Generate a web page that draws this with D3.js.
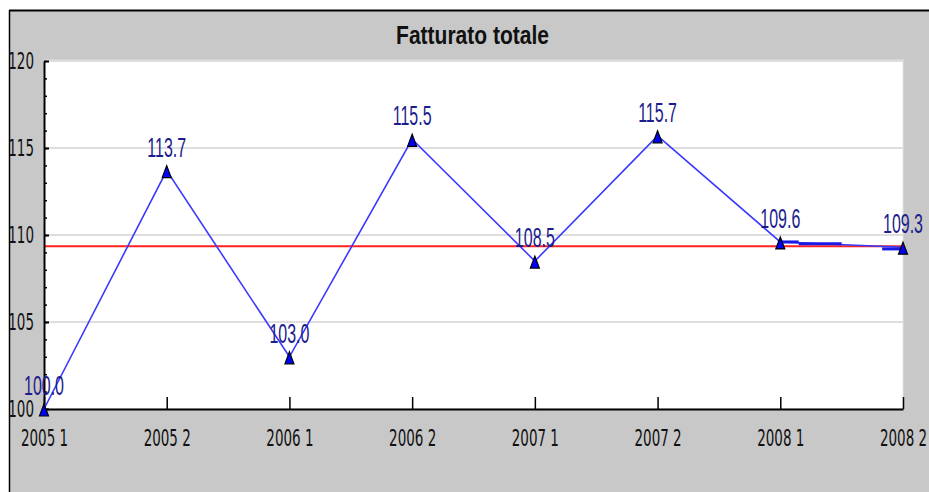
<!DOCTYPE html>
<html>
<head>
<meta charset="utf-8">
<script src="https://cdnjs.cloudflare.com/ajax/libs/d3/7.8.5/d3.min.js"></script>
<style>
  body { margin: 0; background: #fff; }
  svg { display: block; }
  .tickText { font-family: "Liberation Sans Narrow", "DejaVu Sans Condensed", sans-serif; font-size: 15px; fill: #111; }
</style>
</head>
<body>
<div id="chart"></div>
<script>
// chart data
var periods = ["2005 1", "2005 2", "2006 1", "2006 2", "2007 1", "2007 2", "2008 1", "2008 2"];
var fatturato = [100.0, 113.7, 103.0, 115.5, 108.5, 115.7, 109.6, 109.3];
var lineaRiferimento = 109.35;
// short extra blue segments near the end: [from index, to index, value]
var segmentiExtra = [[6, 6.15, 109.6], [6.15, 6.5, 109.5], [6.83, 7, 109.2]];
var yTicks = [100, 105, 110, 115, 120];
var titolo = "Fatturato totale";

// svg size
var svgWidth = 929;
var svgHeight = 492;

// plot area
var plot = { left: 44, right: 903, top: 61, bottom: 409 };

var svg = d3.select("#chart")
    .append("svg")
    .attr("width", svgWidth)
    .attr("height", svgHeight);

// grey panel with black frame (top + left visible)
svg.append("rect")
    .attr("x", 9).attr("y", 10)
    .attr("width", svgWidth).attr("height", svgHeight)
    .attr("fill", "#c8c8c8");
svg.append("line")
    .attr("x1", 9).attr("x2", svgWidth).attr("y1", 10.5).attr("y2", 10.5)
    .attr("stroke", "#000").attr("stroke-width", 2);
svg.append("line")
    .attr("x1", 9.5).attr("x2", 9.5).attr("y1", 10).attr("y2", svgHeight)
    .attr("stroke", "#000").attr("stroke-width", 1.5);

// white plot background
svg.append("rect")
    .attr("x", plot.left).attr("y", plot.top - 1)
    .attr("width", plot.right - plot.left).attr("height", plot.bottom - plot.top + 1)
    .attr("fill", "#fff")
    .attr("stroke", "#e2e2e2").attr("stroke-width", 1);

// scales
var xScale = d3.scalePoint()
    .domain(periods)
    .range([plot.left, plot.right]);

var xIndex = d3.scaleLinear()
    .domain([0, periods.length - 1])
    .range([plot.left, plot.right]);

var yScale = d3.scaleLinear()
    .domain([100, 120])
    .range([plot.bottom, plot.top]);

// gridlines
svg.append("g")
    .selectAll("line")
    .data(yTicks.slice(1))
    .enter()
    .append("line")
    .attr("x1", plot.left).attr("x2", plot.right)
    .attr("y1", d => yScale(d)).attr("y2", d => yScale(d))
    .attr("stroke", "#dedede")
    .attr("stroke-width", 2);

// red reference line
svg.append("line")
    .attr("x1", plot.left).attr("x2", plot.right)
    .attr("y1", yScale(lineaRiferimento)).attr("y2", yScale(lineaRiferimento))
    .attr("stroke", "#ff2020")
    .attr("stroke-width", 2);

// minor y ticks
var minorAxis = d3.axisLeft(yScale)
    .ticks(20)
    .tickSizeInner(-3)
    .tickSizeOuter(0)
    .tickFormat("");

svg.append("g")
    .attr("transform", `translate(${plot.left}, 0)`)
    .call(minorAxis)
    .call(g => g.select(".domain").remove())
    .selectAll("line")
    .attr("stroke", "#000")
    .attr("stroke-width", 1.5);

// major y axis
var leftAxis = d3.axisLeft(yScale)
    .tickValues(yTicks)
    .tickSizeInner(-5)
    .tickSizeOuter(0)
    .tickPadding(10);

var yAxisG = svg.append("g")
    .attr("transform", `translate(${plot.left}, 0)`)
    .call(leftAxis);

yAxisG.select(".domain").attr("stroke", "#000").attr("stroke-width", 2);
yAxisG.selectAll(".tick line").attr("stroke", "#000").attr("stroke-width", 2);
yAxisG.selectAll("text")
    .attr("class", "tickText")
    .attr("font-family", null).attr("font-size", null)
    .attr("transform", "scale(1,1.5)");

// x axis
var bottomAxis = d3.axisBottom(xScale)
    .tickSizeInner(-12)
    .tickSizeOuter(0)
    .tickPadding(14);

var xAxisG = svg.append("g")
    .attr("transform", `translate(0, ${plot.bottom})`)
    .call(bottomAxis);

xAxisG.select(".domain").attr("stroke", "#000").attr("stroke-width", 2);
xAxisG.selectAll(".tick line").attr("stroke", "#000").attr("stroke-width", 1.5);
xAxisG.selectAll("text")
    .attr("class", "tickText")
    .attr("font-family", null).attr("font-size", null)
    .attr("transform", "scale(1,1.5)");

// title
svg.append("text")
    .attr("transform", `translate(${(plot.left + plot.right) / 2 - 1}, 44) scale(1,1.25)`)
    .attr("text-anchor", "middle")
    .style("font-family", "'Liberation Sans Narrow', sans-serif")
    .style("font-weight", "bold")
    .style("font-size", "21px")
    .attr("fill", "#111")
    .text(titolo);

// data line
var line = d3.line()
    .x((d, i) => xScale(periods[i]))
    .y(d => yScale(d));

svg.append("path")
    .datum(fatturato)
    .attr("d", line)
    .attr("fill", "none")
    .attr("stroke", "#3a3aff")
    .attr("stroke-width", 1.6);

// extra segments
svg.append("g")
    .selectAll("line")
    .data(segmentiExtra)
    .enter()
    .append("line")
    .attr("x1", d => xIndex(d[0])).attr("x2", d => xIndex(d[1]))
    .attr("y1", d => yScale(d[2])).attr("y2", d => yScale(d[2]))
    .attr("stroke", "#1a1ae6")
    .attr("stroke-width", 3);

// triangle markers
svg.append("g")
    .selectAll("path")
    .data(fatturato)
    .enter()
    .append("path")
    .attr("d", "M0,-6L4.5,6L-4.5,6Z")
    .attr("transform", (d, i) => `translate(${xScale(periods[i])}, ${yScale(d) + 1})`)
    .attr("fill", "#0000ff")
    .attr("stroke", "#000")
    .attr("stroke-width", 1.2);

// value labels
svg.append("g")
    .selectAll("text")
    .data(fatturato)
    .enter()
    .append("text")
    .attr("transform", (d, i) => `translate(${xScale(periods[i])}, ${yScale(d) - 14}) scale(1,1.7)`)
    .attr("text-anchor", "middle")
    .style("font-family", "'Liberation Sans Narrow', sans-serif")
    .style("font-size", "16px")
    .attr("fill", "#1c1c8c")
    .text(d => d.toFixed(1));
</script>
</body>
</html>
